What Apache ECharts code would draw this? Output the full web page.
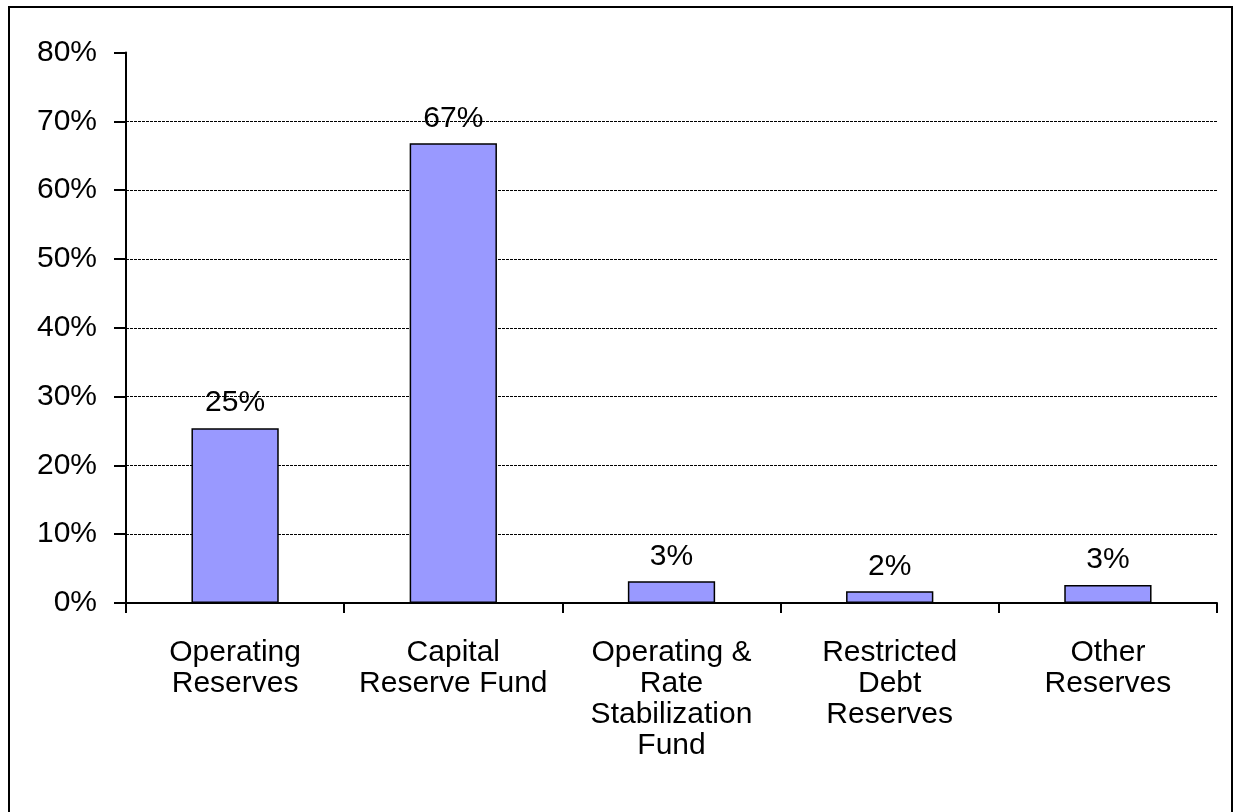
<!DOCTYPE html>
<html>
<head>
<meta charset="utf-8">
<script src="https://cdn.jsdelivr.net/npm/echarts@6/dist/echarts.min.js"></script>
<style>
html,body{margin:0;padding:0;background:#fff;}
#chart{width:1236px;height:812px;}
</style>
</head>
<body>
<div id="chart"></div>
<script>
const categories = ["Operating\nReserves", "Capital\nReserve Fund", "Operating &\nRate\nStabilization\nFund", "Restricted\nDebt\nReserves", "Other\nReserves"];
const values = [25.4, 66.8, 3.15, 1.7, 2.6];
const yTicks = { min: 0, max: 80, interval: 10 };

const FONT = "'Liberation Sans', Arial, sans-serif";
const chart = echarts.init(document.getElementById('chart'), null, { renderer: 'canvas' });
chart.setOption({
  animation: false,
  backgroundColor: '#fff',
  graphic: [{
    type: 'rect',
    shape: { x: 9, y: 7, width: 1223, height: 830 },
    style: { fill: 'none', stroke: '#000', lineWidth: 2 },
    silent: true
  }],
  grid: { left: 126, right: 19, top: 52.5, bottom: 209, containLabel: false },
  xAxis: {
    type: 'category',
    data: categories,
    boundaryGap: true,
    axisLine: { show: true, lineStyle: { color: '#000', width: 2 } },
    axisTick: { show: true, length: 10, inside: false, alignWithLabel: false, lineStyle: { color: '#000', width: 2 } },
    axisLabel: { color: '#000', fontFamily: FONT, fontSize: 30, lineHeight: 31, margin: 34, interval: 0, align: 'center' },
    splitLine: { show: false }
  },
  yAxis: {
    type: 'value',
    min: yTicks.min, max: yTicks.max, interval: yTicks.interval,
    axisLine: { show: true, lineStyle: { color: '#000', width: 2 } },
    axisTick: { show: true, length: 12, inside: false, lineStyle: { color: '#000', width: 2 } },
    axisLabel: { color: '#000', fontFamily: FONT, fontSize: 30, margin: 29, formatter: '{value}%' },
    splitLine: { show: true, showMaxLine: false, lineStyle: { color: '#000', width: 1, type: [3, 1] } }
  },
  series: [{
    type: 'bar',
    data: values,
    barCategoryGap: '60%',
    itemStyle: { color: '#9999FF', borderColor: '#000', borderWidth: 1.5 },
    label: {
      show: true, position: 'top', distance: 10,
      color: '#000', fontFamily: FONT, fontSize: 30,
      formatter: p => Math.round(p.value) + '%'
    },
    z: 3
  }]
});
</script>
</body>
</html>
